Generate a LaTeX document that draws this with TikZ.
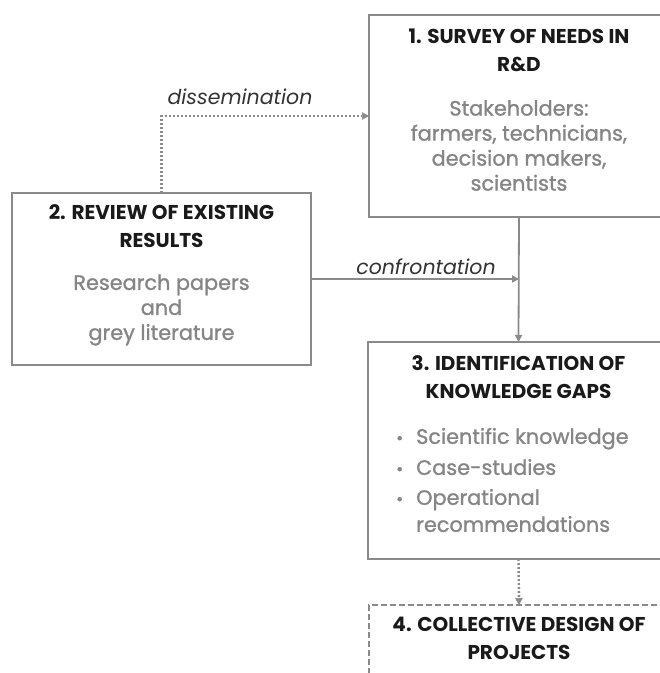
\documentclass[tikz,border=0pt]{standalone}
\usepackage{fontspec}
\setmainfont{Poppins}
\newfontfamily\bodyfont{Poppins}[FakeBold=1.2]
\usetikzlibrary{arrows.meta}
\definecolor{linegrey}{HTML}{8A8A8A}
\definecolor{textgrey}{HTML}{858585}
\definecolor{titleblack}{HTML}{1A1A1A}
\definecolor{labeldark}{HTML}{333333}
\tikzset{
  box/.style={draw=linegrey, line width=1.8pt, rectangle, anchor=north west, inner sep=0pt, outer sep=0pt},
  dashbox/.style={box, dash pattern=on 6pt off 3pt},
  title/.style={align=center, text=titleblack, font=\fontsize{20}{28}\selectfont\bfseries, inner sep=0pt},
  body/.style={align=center, text=textgrey, font=\bodyfont\fontsize{20.8}{25}\selectfont, inner sep=0pt},
  lbl/.style={text=labeldark, font=\fontsize{20.5}{22}\selectfont\itshape, inner sep=0pt},
  conn/.style={draw=linegrey, line width=1.8pt, -{Triangle[length=7pt,width=7pt]}},
  dotconn/.style={conn, line width=2.4pt, dash pattern=on 2pt off 2pt, -{Triangle[length=7pt,width=7.5pt,line width=0.5pt]}},
}
\newcommand{\bul}{\makebox[20pt][l]{\fontsize{17}{17}\selectfont•}}
\begin{document}
\begin{tikzpicture}[x=1pt,y=-1pt]
\useasboundingbox (0,0) rectangle (660,673);
\clip (0,0) rectangle (660,673);
% boxes
\node[box, minimum width=300pt, minimum height=202pt] (b1) at (369,15) {};
\node[box, minimum width=299pt, minimum height=172pt] (b2) at (12,193) {};
\node[box, minimum width=301pt, minimum height=217pt] (b3) at (368,342) {};
\node[dashbox, minimum width=300pt, minimum height=120pt] (b4) at (369,605) {};
% texts
\node[title] (t1) at (519,50) {1. SURVEY OF NEEDS IN\\R\&D};
\node[body] (d1) at (519,145.5) {Stakeholders:\\farmers, technicians,\\decision makers,\\scientists};
\node[title] (t2) at (161.5,226.5) {2. REVIEW OF EXISTING\\RESULTS};
\node[body] (d2) at (161.5,310) {Research papers\\and\\grey literature};
\node[title] (t3) at (518.5,377.5) {3. IDENTIFICATION OF\\KNOWLEDGE GAPS};
\node[body, align=left, anchor=west, font=\bodyfont\fontsize{20.8}{27}\selectfont] (d3) at (396,480)
  {\bul Scientific knowledge\\[4pt]
   \bul Case-studies\\[3pt]
   \bul Operational\\
   \hspace*{20pt}recommendations};
\node[title] (t4) at (519,638.5) {4. COLLECTIVE DESIGN OF\\PROJECTS};
% labels
\node[lbl] (l1) at (240,97) {dissemination};
\node[lbl] (l2) at (426,267) {confrontation};
% connectors
\coordinate (j) at (b1.south |- b2.east);
\draw[dotconn] (b2.north) |- (b1.west);
\draw[conn] (b2.east) -- (j);
\draw[conn] (b1.south) -- (b3.north);
\draw[dotconn] (b3.south) -- (b4.north);
\end{tikzpicture}
\end{document}
